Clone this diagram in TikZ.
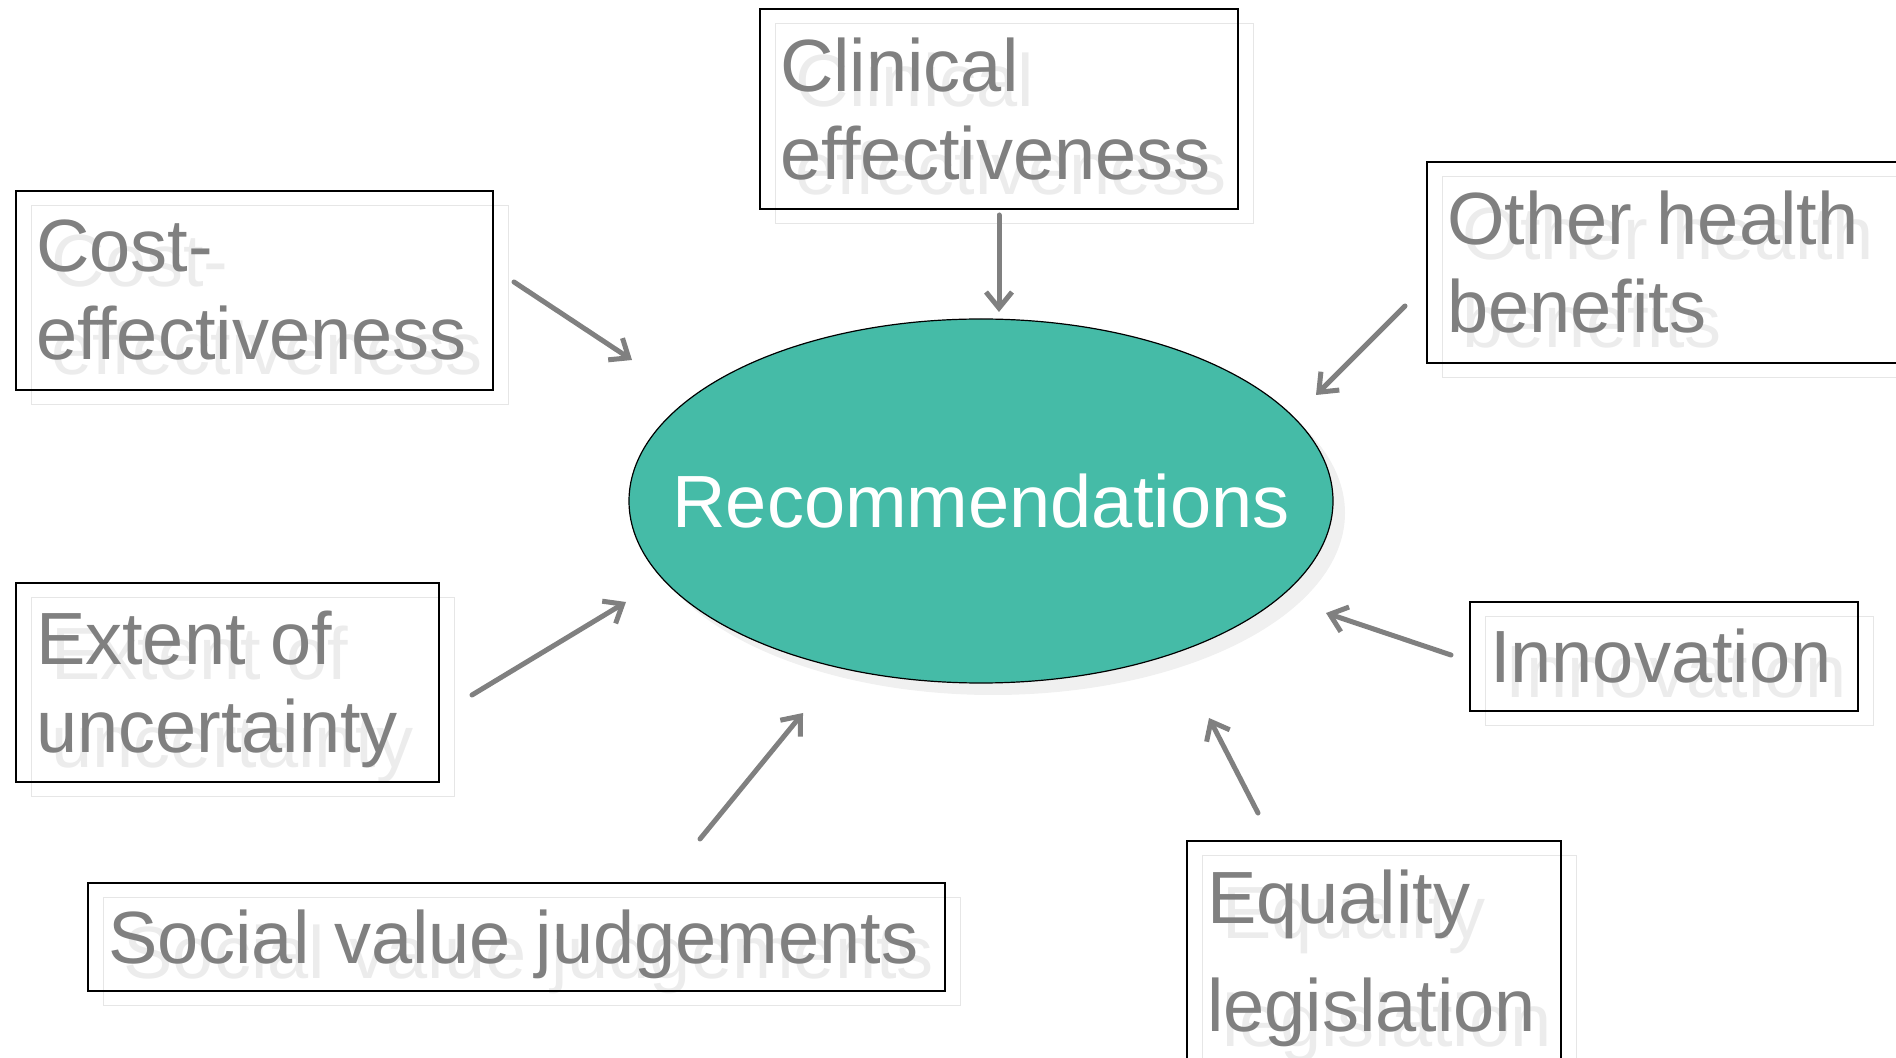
\documentclass[tikz,border=0pt]{standalone}
\usepackage{fontspec}
\setmainfont{Liberation Sans}
\usepackage{tikz}
\usetikzlibrary{positioning, calc, shapes, arrows.meta, shadows}
\definecolor{txtgray}{HTML}{808080}
\definecolor{ghosttxt}{HTML}{ECECEC}
\definecolor{ghostline}{HTML}{E6E6E6}
\definecolor{recteal}{HTML}{45BBA7}
\newcommand{\factorfont}{\fontsize{37}{44}\selectfont}

\begin{document}
\begin{tikzpicture}[x=0.5pt, y=-0.5pt,
		factor/.style={rectangle, draw, line width=1pt, anchor=north west, align=left, inner xsep=10pt, inner ysep=0pt, text=txtgray, font=\factorfont},
		ghost/.style={factor, draw=ghostline, line width=0.6pt, text=ghosttxt},
		feed/.style={-{Straight Barb[length=8pt, width=13pt]}, line width=2.5pt, draw=txtgray, line cap=round, line join=round}]
		\useasboundingbox (0,0) rectangle (1896,1058);
		\node[ellipse, draw, line width=0.6pt, fill=recteal, minimum width=352pt, minimum height=182pt, inner sep=0pt, drop shadow={shadow xshift=6pt, shadow yshift=-6pt, fill=black!6, opacity=1}] (rec) at (981,501) {};
		\node[text=white, font=\factorfont, inner sep=0pt] (rec-label) at (rec.center) {Recommendations};
		\node[ghost, text width=219pt, minimum height=100pt] (clin-g) at (775,23) {Clinical\\effectiveness};
		\node[factor, text width=219pt, minimum height=100pt] (clin) at (759,8) {Clinical\\effectiveness};
		\node[ghost, text width=218.5pt, minimum height=99.5pt] (cost-g) at (31,205) {Cost-\\effectiveness};
		\node[factor, text width=218.5pt, minimum height=99.5pt] (cost) at (15,190) {Cost-\\effectiveness};
		\node[ghost, text width=230pt, minimum height=100.5pt] (other-g) at (1442,176) {Other health\\benefits};
		\node[factor, text width=230pt, minimum height=100.5pt] (other) at (1426,161) {Other health\\benefits};
		\node[ghost, text width=191.5pt, minimum height=99.5pt] (extent-g) at (31,597) {Extent of\\uncertaint\smash{y}};
		\node[factor, text width=191.5pt, minimum height=99.5pt] (extent) at (15,582) {Extent of\\uncertaint\smash{y}};
		\node[ghost, text width=174pt, minimum height=54.5pt] (innov-g) at (1485,616) {Innovation};
		\node[factor, text width=174pt, minimum height=54.5pt] (innov) at (1469,601) {Innovation};
		\node[ghost, text width=408.5pt, minimum height=54pt, text depth=0pt] (social-g) at (103,897) {Social value judgements};
		\node[factor, text width=408.5pt, minimum height=54pt, text depth=0pt] (social) at (87,882) {Social value judgements};
		\node[ghost, text width=167pt, minimum height=110pt, font=\fontsize{37}{54}\selectfont] (equal-g) at (1202,855) {Equality\\le\smash{g}islation};
		\node[factor, text width=167pt, minimum height=110pt, font=\fontsize{37}{54}\selectfont] (equal) at (1186,840) {Equality\\le\smash{g}islation};
		\coordinate (clin-out) at (999,215);
		\coordinate (clin-in) at (999,312);
		\coordinate (cost-out) at (514,282);
		\coordinate (cost-in) at (632,360);
		\coordinate (other-out) at (1405,306);
		\coordinate (other-in) at (1316,395);
		\coordinate (extent-out) at (472,695);
		\coordinate (extent-in) at (626,602);
		\coordinate (innov-out) at (1451,655);
		\coordinate (innov-in) at (1326,613);
		\coordinate (equal-out) at (1258,813);
		\coordinate (equal-in) at (1209,718);
		\coordinate (social-out) at (700,839);
		\coordinate (social-in) at (803,713);
		\draw[feed] (clin-out) -- (clin-in);
		\draw[feed] (cost-out) -- (cost-in);
		\draw[feed] (other-out) -- (other-in);
		\draw[feed] (extent-out) -- (extent-in);
		\draw[feed] (innov-out) -- (innov-in);
		\draw[feed] (equal-out) -- (equal-in);
		\draw[feed] (social-out) -- (social-in);
\end{tikzpicture}
\end{document}
